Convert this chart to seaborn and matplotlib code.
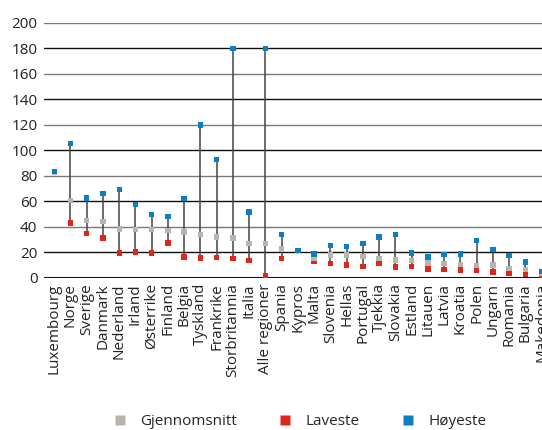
import matplotlib
matplotlib.use("Agg")
import matplotlib.pyplot as plt
import seaborn as sns
import pandas as pd

# --- Data ---
regions = ['Luxembourg', 'Norge', 'Sverige', 'Danmark', 'Nederland', 'Irland',
           'Østerrike', 'Finland', 'Belgia', 'Tyskland', 'Frankrike',
           'Storbritannia', 'Italia', 'Alle regioner', 'Spania', 'Kypros',
           'Malta', 'Slovenia', 'Hellas', 'Portugal', 'Tjekkia', 'Slovakia',
           'Estland', 'Litauen', 'Latvia', 'Kroatia', 'Polen', 'Ungarn',
           'Romania', 'Bulgaria', 'Makedonia']
mean_vals = [83, 60.6, 44.7, 44.2, 38.2, 37.6, 37.6, 36.9, 35.8, 33.7, 31.9,
             31.1, 26.9, 26.7, 22.5, 21.2, 15.5, 17.8, 17.8, 16.5, 15.2, 13.9,
             13.3, 11.5, 11.0, 10.2, 9.7, 10.0, 7.1, 6.3, 3.5]
low_vals = [83, 42.9, 34.5, 31.1, 19.3, 20.1, 19.3, 27.2, 16.2, 15.4, 15.9,
            15.2, 13.6, 1.8, 15.2, 21.2, 12.8, 11.2, 10.0, 8.9, 11.0, 8.4,
            8.9, 6.8, 6.3, 6.0, 5.5, 4.4, 3.1, 2.4, 1.8]
high_vals = [83.4, 105, 62.5, 65.9, 69, 57.3, 49.4, 48.1, 62, 119.7, 92.5,
             180, 51.5, 180, 33.7, 21.4, 18.5, 25.1, 24.3, 26.7, 31.9, 33.7,
             19.3, 16.2, 18, 18.5, 29.3, 22, 17.3, 12.3, 5]
y_ticks = [0, 20, 40, 60, 80, 100, 120, 140, 160, 180, 200]

series_names = ['Gjennomsnitt', 'Laveste', 'Høyeste']
COLORS = {'Gjennomsnitt': '#b9b4ad', 'Laveste': '#e3241b', 'Høyeste': '#0b7fc1'}

sns.set_theme(style="white")
plt.rcParams['font.family'] = ['Open Sans', 'DejaVu Sans']

df = pd.DataFrame({'region': regions, 'pos': range(len(regions)),
                   'Gjennomsnitt': mean_vals, 'Laveste': low_vals,
                   'Høyeste': high_vals})

fig = plt.figure(figsize=(5.42, 4.30), dpi=100)
ax = fig.add_axes([0.082, 0.3545, 0.918, 0.5925])

# gridlines (alternating tone like the original)
for i, t in enumerate(y_ticks[1:]):
    ax.axhline(t, color='#7a7a7a' if i % 2 == 1 else '#111111', lw=1.0, zorder=0)
ax.axhline(0, color='#111111', lw=2.2, zorder=1)

# range lines from lowest to highest
ax.vlines(df['pos'], df['Laveste'], df['Høyeste'], color='#444444', lw=1.1, zorder=2)

for z, name in zip([3, 4, 5], ['Laveste', 'Gjennomsnitt', 'Høyeste']):
    sns.scatterplot(data=df, x='pos', y=name, marker='s', s=15, color=COLORS[name],
                    edgecolor='none', linewidth=0, ax=ax, zorder=z, clip_on=False)

ax.set_xlim(-0.6, 30.02)
ax.set_ylim(0, 200)
ax.set_yticks(y_ticks)
ax.set_yticklabels([str(t) for t in y_ticks], fontsize=11, color='#222222')
ax.set_xticks(range(len(regions)))
ax.set_xticklabels(regions, rotation=90, fontsize=11, color='#222222')
ax.tick_params(axis='x', length=0, pad=4)
ax.tick_params(axis='y', length=0, pad=5)
ax.set_xlabel('')
ax.set_ylabel('')
for s in ax.spines.values():
    s.set_visible(False)

handles = [plt.Line2D([], [], marker='s', ls='none', markersize=7,
                      markerfacecolor=COLORS[n], markeredgecolor='none')
           for n in series_names]
fig.legend(handles, series_names, loc='lower center', ncol=3, frameon=False,
           bbox_to_anchor=(0.545, -0.03), fontsize=11, handletextpad=0.3,
           columnspacing=2.2)

fig.savefig('out.png', dpi=100)
